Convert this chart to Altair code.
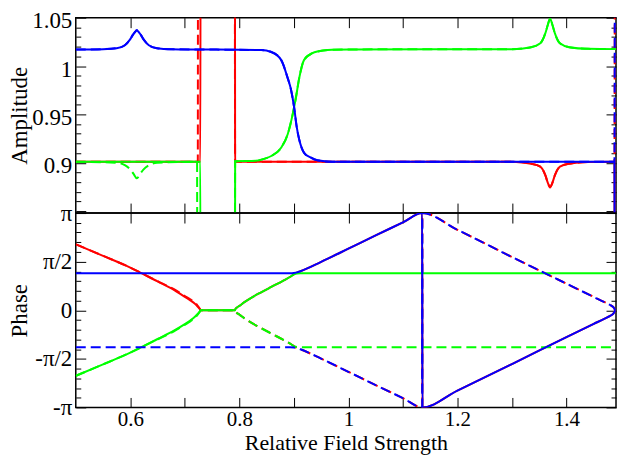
import altair as alt
import pandas as pd
import math

PI = math.pi

# ---------------- data ----------------
# Amplitude panel
amp_red_solid_x = [0.5, 0.7285, 0.729, 0.7918, 0.7923, 1.30, 1.335, 1.352, 1.361, 1.366, 1.37, 1.374, 1.379, 1.388, 1.405, 1.44, 1.488, 1.489]
amp_red_solid_y = [0.901, 0.901, 1.3, 1.3, 0.901, 0.901, 0.899, 0.896, 0.8875, 0.879, 0.8745, 0.879, 0.8875, 0.896, 0.899, 0.9007, 0.901, 0.6]

amp_red_dash_x = [0.5, 0.7238, 0.7244, 0.7912, 0.7923, 1.30, 1.335, 1.352, 1.361, 1.366, 1.37, 1.374, 1.379, 1.388, 1.405, 1.44, 1.488, 1.489]
amp_red_dash_y = [0.901, 0.901, 1.3, 1.3, 0.901, 0.901, 0.899, 0.896, 0.8875, 0.879, 0.8745, 0.879, 0.8875, 0.896, 0.899, 0.9007, 0.901, 1.3]

amp_green_solid_x = [0.5, 0.7285, 0.729, 0.7918, 0.7923, 0.83, 0.845, 0.8586, 0.8766, 0.8887, 0.8978, 0.9038, 0.9098, 0.9188, 0.9339, 0.943, 0.97, 1.0, 1.30, 1.335, 1.352, 1.361, 1.366, 1.37, 1.374, 1.379, 1.388, 1.405, 1.44, 1.495]
amp_green_solid_y = [0.901, 0.901, 0.6, 0.6, 0.9015, 0.902, 0.904, 0.907, 0.9155, 0.9295, 0.95, 0.9675, 0.9875, 1.0064, 1.0133, 1.015, 1.0168, 1.0172, 1.0175, 1.0195, 1.0235, 1.0335, 1.043, 1.049, 1.043, 1.0335, 1.0235, 1.0195, 1.0178, 1.0175]

amp_green_dash_x = [0.5, 0.575, 0.59, 0.6, 0.606, 0.612, 0.618, 0.624, 0.634, 0.649, 0.7225, 0.723, 0.7915, 0.7923, 0.83, 0.845, 0.8586, 0.8766, 0.8887, 0.8978, 0.9038, 0.9098, 0.9188, 0.9339, 0.943, 0.97, 1.0, 1.30, 1.335, 1.352, 1.361, 1.366, 1.37, 1.374, 1.379, 1.388, 1.405, 1.44, 1.495]
amp_green_dash_y = [0.901, 0.9, 0.8975, 0.893, 0.8885, 0.884, 0.8885, 0.893, 0.8975, 0.9, 0.901, 0.6, 0.6, 0.9015, 0.902, 0.904, 0.907, 0.9155, 0.9295, 0.95, 0.9675, 0.9875, 1.0064, 1.0133, 1.015, 1.0168, 1.0172, 1.0175, 1.0195, 1.0235, 1.0335, 1.043, 1.049, 1.043, 1.0335, 1.0235, 1.0195, 1.0178, 1.0175]

amp_blue_solid_x = [0.5, 0.55, 0.575, 0.59, 0.599, 0.605, 0.609, 0.612, 0.615, 0.619, 0.625, 0.634, 0.649, 0.675, 0.84, 0.8586, 0.8766, 0.8887, 0.8947, 0.9007, 0.905, 0.9098, 0.9188, 0.9307, 0.943, 0.97, 1.488, 1.489]
amp_blue_solid_y = [1.017, 1.0175, 1.0185, 1.0215, 1.027, 1.0325, 1.0355, 1.037, 1.0355, 1.0325, 1.027, 1.0215, 1.0185, 1.0175, 1.0165, 1.0145, 1.0064, 0.9875, 0.9758, 0.9565, 0.9379, 0.924, 0.9103, 0.9055, 0.9025, 0.901, 0.901, 0.6]

amp_blue_dash_x = amp_blue_solid_x
amp_blue_dash_y = [1.017, 1.0175, 1.0185, 1.0215, 1.027, 1.0325, 1.0355, 1.037, 1.0355, 1.0325, 1.027, 1.0215, 1.0185, 1.0175, 1.0165, 1.0145, 1.0064, 0.9875, 0.9758, 0.9565, 0.9379, 0.924, 0.9103, 0.9055, 0.9025, 0.901, 0.901, 1.3]

# Phase panel
ph_red_x = [0.5, 0.55, 0.6, 0.65, 0.68, 0.7, 0.71, 0.718, 0.723, 0.726, 0.728, 0.729, 0.7918, 0.7925, 0.795, 0.8, 0.81, 0.8225, 0.84, 0.8586, 0.88, 0.895, 0.9, 0.906, 0.912, 0.95, 1.0, 1.05, 1.1, 1.1354, 1.1357, 1.2, 1.3, 1.4, 1.45, 1.47, 1.48, 1.486, 1.4895]
ph_red_solid_y = [2.13, 1.76, 1.38, 0.93, 0.66, 0.43, 0.32, 0.22, 0.13, 0.07, 0.025, 0.0, 0.0, 0.03, 0.08, 0.14, 0.27, 0.41, 0.58, 0.753, 0.95, 1.10, 1.16, 1.225, 1.262, 1.565, 1.99, 2.42, 2.84, 3.1416, -3.1416, -2.60, -1.74, -0.87, -0.44, -0.27, -0.18, -0.11, 0.0]
ph_red_dash_y = [2.13, 1.76, 1.38, 0.94, 0.68, 0.46, 0.35, 0.25, 0.16, 0.09, 0.035, 0.0, 0.0, -0.03, -0.08, -0.14, -0.27, -0.41, -0.58, -0.753, -0.95, -1.10, -1.16, -1.225, -1.262, -1.565, -1.99, -2.42, -2.84, -3.1416, 3.1416, 2.60, 1.72, 0.86, 0.43, 0.26, 0.17, 0.10, 0.0]

ph_green_x = [0.5, 0.55, 0.6, 0.65, 0.68, 0.7, 0.71, 0.718, 0.723, 0.726, 0.728, 0.729, 0.7918, 0.7925, 0.795, 0.8, 0.81, 0.8225, 0.84, 0.8586, 0.88, 0.895, 0.9, 0.906, 0.912, 0.92, 1.495]
ph_green_solid_y = [-2.12, -1.75, -1.37, -0.93, -0.66, -0.45, -0.33, -0.22, -0.13, -0.07, -0.025, 0.0, 0.0, 0.03, 0.08, 0.14, 0.27, 0.41, 0.58, 0.753, 0.95, 1.10, 1.16, 1.19, 1.195, 1.196, 1.196]
ph_green_dash_y = [-2.12, -1.75, -1.37, -0.94, -0.68, -0.47, -0.36, -0.25, -0.16, -0.09, -0.035, 0.0, 0.0, -0.03, -0.08, -0.14, -0.27, -0.41, -0.58, -0.753, -0.95, -1.10, -1.16, -1.19, -1.195, -1.196, -1.196]

ph_blue_x = [0.5, 0.893, 0.9, 0.906, 0.912, 0.95, 1.0, 1.05, 1.1, 1.1354, 1.1357, 1.2, 1.3, 1.4, 1.45, 1.47, 1.48, 1.486, 1.4895]
ph_blue_solid_y = [1.196, 1.196, 1.205, 1.225, 1.262, 1.565, 1.99, 2.42, 2.84, 3.1416, -3.1416, -2.60, -1.74, -0.87, -0.44, -0.27, -0.18, -0.11, 0.0]
ph_blue_dash_y = [-1.196, -1.196, -1.205, -1.225, -1.262, -1.565, -1.99, -2.42, -2.84, -3.1416, 3.1416, 2.60, 1.72, 0.86, 0.43, 0.26, 0.17, 0.10, 0.0]

# axis ticks / labels
x_tick_values = [0.6, 0.7, 0.8, 0.9, 1.0, 1.1, 1.2, 1.3, 1.4]
x_label_values = [0.6, 0.8, 1.0, 1.2, 1.4]
amp_major = [0.85, 0.9, 0.95, 1.0, 1.05]
amp_minor = [0.86, 0.87, 0.88, 0.89, 0.91, 0.92, 0.93, 0.94, 0.96, 0.97, 0.98, 0.99, 1.01, 1.02, 1.03, 1.04]
amp_labels = [0.9, 0.95, 1.0, 1.05]
ph_major = [-PI, -PI / 2, 0.0, PI / 2, PI]
ph_minor = [k * PI / 10 for k in (-9, -8, -7, -6, -4, -3, -2, -1, 1, 2, 3, 4, 6, 7, 8, 9)]

# ---------------- layout / style ----------------
W = 542
X_DOMAIN = [0.5, 0.5 + W / 547.0]
AMP_DOMAIN = [0.848, 1.05]
PH_DOMAIN = [-PI, PI]
H_TOP = 196
H_BOT = 195
FONT = "Liberation Serif, Times New Roman, serif"
FS = 23
RED, GREEN, BLUE = "#ff0000", "#00ff00", "#0000ff"
DASH = [10, 5]


def xscale():
    return alt.Scale(domain=X_DOMAIN, nice=False, zero=False)


def yscale(dom):
    return alt.Scale(domain=dom, nice=False, zero=False)


def tick_axis(orient, offset, values, size):
    return alt.Axis(orient=orient, offset=offset, values=values, tickSize=size,
                    labels=False, domain=False, grid=False, ticks=True,
                    tickColor="black", tickWidth=1, title=None)


def guide(anchor_y, ydom, xaxis, yaxis):
    df = pd.DataFrame({"x": [0.6], "y": [anchor_y]})
    return alt.Chart(df).mark_point(opacity=0).encode(
        x=alt.X("x:Q", scale=xscale(), axis=xaxis),
        y=alt.Y("y:Q", scale=yscale(ydom), axis=yaxis),
    )


def series(xs, ys, color, dashed, ydom):
    df = pd.DataFrame({"x": xs, "y": ys})
    kw = dict(color=color, strokeWidth=2, clip=True, interpolate="monotone")
    if dashed:
        kw["strokeDash"] = DASH
    return alt.Chart(df).mark_line(**kw).encode(
        x=alt.X("x:Q", scale=xscale(), axis=None),
        y=alt.Y("y:Q", scale=yscale(ydom), axis=None),
    )


# ---- top panel: amplitude ----
amp_label_axis = alt.Axis(orient="left", values=amp_labels, format=".2~f", ticks=False, tickSize=0,
                          domain=False, grid=False, labelPadding=4, labelOffset=3,
                          title="Amplitude", titlePadding=0, minExtent=44, maxExtent=44)
top_layers = [
    guide(0.9, AMP_DOMAIN, tick_axis("top", -H_TOP, x_tick_values, 10), amp_label_axis),
    guide(0.9, AMP_DOMAIN, tick_axis("bottom", -H_TOP, x_tick_values, 10), tick_axis("right", -W, amp_major, 10)),
    guide(0.9, AMP_DOMAIN, None, tick_axis("right", -W, amp_minor, 5)),
    guide(0.9, AMP_DOMAIN, None, tick_axis("left", -W, amp_major, 10)),
    guide(0.9, AMP_DOMAIN, None, tick_axis("left", -W, amp_minor, 5)),
    series(amp_red_dash_x, amp_red_dash_y, RED, True, AMP_DOMAIN),
    series(amp_red_solid_x, amp_red_solid_y, RED, False, AMP_DOMAIN),
    series(amp_green_dash_x, amp_green_dash_y, GREEN, True, AMP_DOMAIN),
    series(amp_green_solid_x, amp_green_solid_y, GREEN, False, AMP_DOMAIN),
    series(amp_blue_dash_x, amp_blue_dash_y, BLUE, True, AMP_DOMAIN),
    series(amp_blue_solid_x, amp_blue_solid_y, BLUE, False, AMP_DOMAIN),
]
top = alt.layer(*top_layers).resolve_axis(x="independent", y="independent").properties(width=W, height=H_TOP)

# ---- bottom panel: phase ----
ph_label_axis = alt.Axis(orient="left", values=ph_major, ticks=False, tickSize=0, domain=False, grid=False,
                         labelPadding=4, title="Phase", titlePadding=0, minExtent=44, maxExtent=44,
                         labelExpr="datum.value > 3 ? 'π' : datum.value > 1 ? 'π/2' : datum.value > -1 ? '0' : datum.value > -3 ? '-π/2' : '-π'")
x_label_axis = alt.Axis(orient="bottom", values=x_label_values, format="~g", ticks=False, tickSize=0,
                        domain=False, grid=False, labelPadding=1, labelFontSize=21,
                        title="Relative Field Strength", titleFontSize=22,
                        titlePadding=0, minExtent=25, maxExtent=25)
bot_layers = [
    guide(0.0, PH_DOMAIN, tick_axis("top", -H_BOT, x_tick_values, 10), ph_label_axis),
    guide(0.0, PH_DOMAIN, tick_axis("bottom", -H_BOT, x_tick_values, 10), tick_axis("right", -W, ph_major, 10)),
    guide(0.0, PH_DOMAIN, x_label_axis, tick_axis("right", -W, ph_minor, 5)),
    guide(0.0, PH_DOMAIN, None, tick_axis("left", -W, ph_major, 10)),
    guide(0.0, PH_DOMAIN, None, tick_axis("left", -W, ph_minor, 5)),
    series(ph_red_x, ph_red_dash_y, RED, True, PH_DOMAIN),
    series(ph_red_x, ph_red_solid_y, RED, False, PH_DOMAIN),
    series(ph_green_x, ph_green_dash_y, GREEN, True, PH_DOMAIN),
    series(ph_green_x, ph_green_solid_y, GREEN, False, PH_DOMAIN),
    series(ph_blue_x, ph_blue_dash_y, BLUE, True, PH_DOMAIN),
    series(ph_blue_x, ph_blue_solid_y, BLUE, False, PH_DOMAIN),
]
bottom = alt.layer(*bot_layers).resolve_axis(x="independent", y="independent").properties(width=W, height=H_BOT)

chart = (
    alt.vconcat(top, bottom, spacing=0, bounds="flush")
    .properties(padding={"left": 0, "top": 0, "right": 0, "bottom": 0})
    .configure_view(stroke="black", strokeWidth=1.5)
    .configure_axis(labelFont=FONT, titleFont=FONT, labelFontSize=FS, titleFontSize=FS,
                    labelColor="black", titleColor="black", titleFontWeight="normal")
)

chart.save("out.html", embed_options={"renderer": "svg", "actions": False})
